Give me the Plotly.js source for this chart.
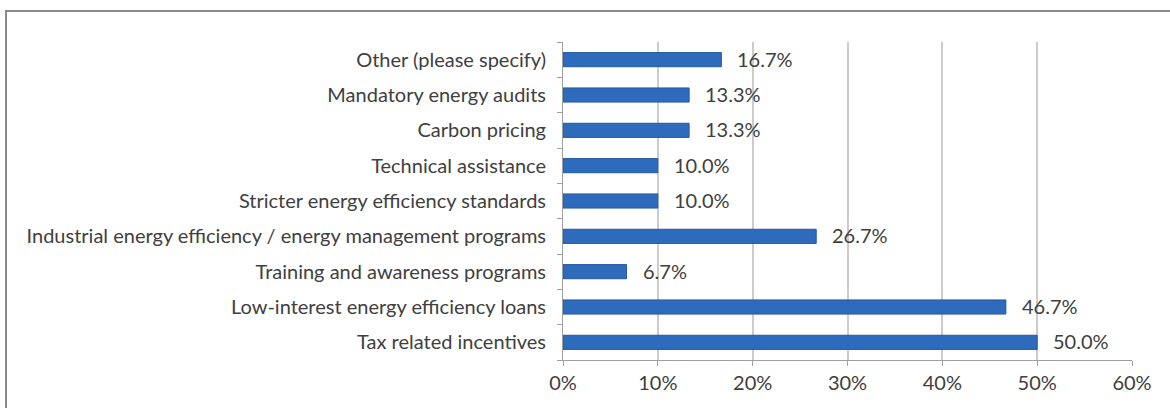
<!DOCTYPE html>
<html>
<head>
<meta charset="utf-8">
<script src="https://cdn.plot.ly/plotly-3.0.1.min.js"></script>
<style>
  html, body { margin: 0; padding: 0; background: #fff; }
  #frame { position: absolute; left: 5px; top: 10px; width: 1180px; height: 420px;
           border-left: 2px solid #8a8a8a; border-top: 2px solid #8a8a8a; }
  #chart { position: absolute; left: 0; top: 0; width: 1170px; height: 408px; }
</style>
</head>
<body>
<div id="frame"></div>
<div id="chart"></div>
<script>
// categories bottom to top, as plotted
let categories = [
    "Tax related incentives",
    "Low-interest energy efficiency loans",
    "Training and awareness programs",
    "Industrial energy efficiency / energy management programs",
    "Stricter energy efficiency standards",
    "Technical assistance",
    "Carbon pricing",
    "Mandatory energy audits",
    "Other (please specify)"
];
let shares = [50.0, 46.7, 6.7, 26.7, 10.0, 10.0, 13.3, 13.3, 16.7];
let tickVals = [0, 10, 20, 30, 40, 50, 60];
let tickText = ["0%", "10%", "20%", "30%", "40%", "50%", "60%"];

let textColor = '#404040';
let fontFam = 'Lato, sans-serif';
let fontSize = 20;

let traceBars = {
    type: 'bar',
    orientation: 'h',
    x: shares,
    y: categories,
    marker: { color: '#2f6bbd', line: { color: '#25599f', width: 1 } },
    hoverinfo: 'x+y'
};

// value labels, set a bit right of each bar end
let labels = shares.map((v, i) => ({
    x: v,
    y: categories[i],
    xref: 'x',
    yref: 'y',
    text: v.toFixed(1) + '%',
    showarrow: false,
    xanchor: 'left',
    xshift: 14,
    yshift: 1,
    font: { family: fontFam, size: fontSize, color: textColor }
}));

let layout = {
    width: 1170,
    height: 408,
    margin: { l: 563, r: 38, t: 42, b: 48 },
    paper_bgcolor: 'rgba(0,0,0,0)',
    plot_bgcolor: 'rgba(0,0,0,0)',
    font: { family: fontFam, size: fontSize, color: textColor },
    bargap: 0.6,
    showlegend: false,
    xaxis: {
        range: [0, 60],
        tickvals: tickVals,
        ticktext: tickText,
        showgrid: true,
        gridcolor: '#cccccc',
        gridwidth: 1.5,
        zeroline: false,
        showline: true,
        linecolor: '#a0a0a0',
        ticks: 'outside',
        ticklen: 5,
        tickcolor: '#a0a0a0',
        tickfont: { family: fontFam, size: fontSize, color: textColor }
    },
    yaxis: {
        type: 'category',
        categoryorder: 'array',
        categoryarray: categories,
        tickson: 'boundaries',
        showline: true,
        linecolor: '#a0a0a0',
        ticks: 'outside',
        ticklen: 5,
        tickcolor: '#a0a0a0',
        showgrid: false,
        ticklabelstandoff: 12,
        tickfont: { family: fontFam, size: fontSize, color: textColor }
    },
    annotations: labels
};

Plotly.newPlot('chart', [traceBars], layout, { displayModeBar: false });
</script>
</body>
</html>
